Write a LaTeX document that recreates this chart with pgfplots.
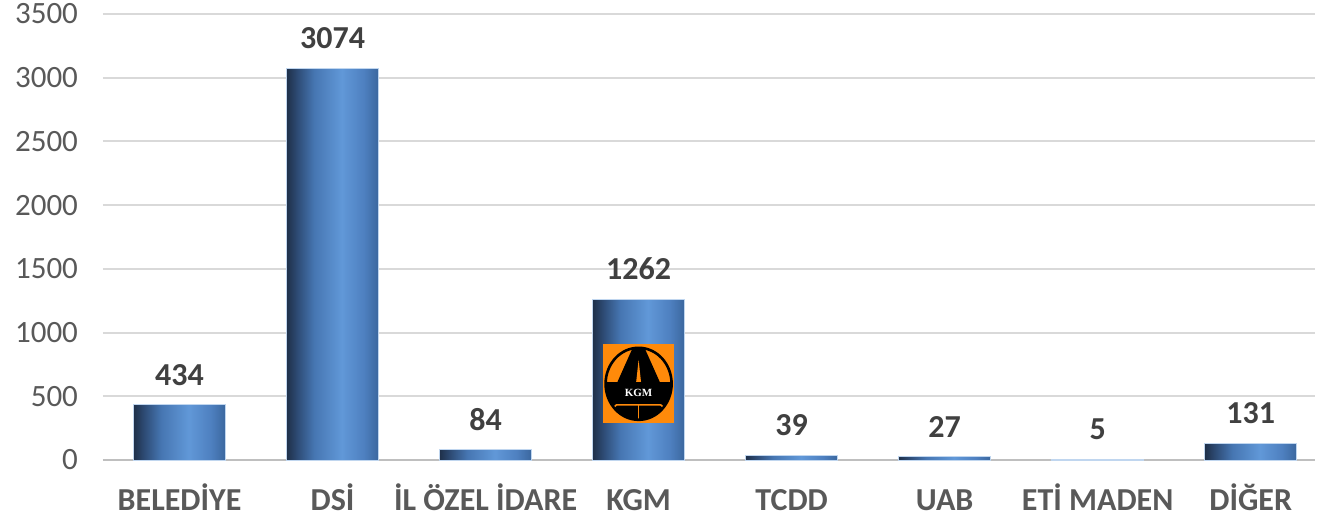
\documentclass[border=0pt]{standalone}
\usepackage{fontspec}
\setmainfont{Carlito}
\newfontfamily\logofont{Liberation Serif}
\usepackage{pgfplots}
\pgfplotsset{compat=1.18}
\definecolor{gridc}{HTML}{D9D9D9}
\definecolor{zeroc}{HTML}{BFBFBF}
\definecolor{tickc}{HTML}{595959}
\definecolor{labc}{HTML}{404040}
\definecolor{kgmor}{HTML}{FF8A0A}
\definecolor{b0}{HTML}{1F3049}
\definecolor{b1}{HTML}{2E4C76}
\definecolor{b2}{HTML}{4676B2}
\definecolor{b3}{HTML}{6198D8}
\definecolor{b4}{HTML}{4E80C0}
\definecolor{b5}{HTML}{3B679E}
\pgfdeclarehorizontalshading{barshade}{100bp}{color(0bp)=(b0); color(25bp)=(b0); color(31bp)=(b1); color(40bp)=(b2); color(55bp)=(b3); color(67bp)=(b4); color(75bp)=(b5); color(100bp)=(b5)}
\pgfplotsset{gbar/.style={ybar, bar width=46pt, bar shift=0pt, draw=b3!40!white, line width=0.4pt, shading=barshade}}
\begin{document}
\begin{tikzpicture}
\useasboundingbox (-51.5pt,-28pt) rectangle (608pt,230pt);
\begin{axis}[
  at={(0,0)}, anchor=south west,
  width=606pt, height=223pt, scale only axis,
  xmin=-0.5, xmax=7.42, ymin=0, ymax=3500,
  ytick={0,500,...,3500},
  xtick={0,...,7},
  xticklabels={BELEDİYE, DSİ, İL ÖZEL İDARE, KGM, TCDD, UAB, ETİ MADEN, DİĞER},
  axis line style={draw=none},
  major tick length=0pt,
  ymajorgrids,
  grid style={gridc, line width=1pt},
  extra y ticks={0}, extra y tick labels={},
  extra y tick style={grid style={zeroc, line width=1.3pt}},
  /pgf/number format/assume math mode=true,
  /pgf/number format/1000 sep={},
  yticklabel style={font=\fontsize{15.5}{18}\selectfont, text=tickc, xshift=-9pt},
  xticklabel style={font=\fontsize{16}{19}\selectfont\bfseries, text=tickc, anchor=base, yshift=-25pt},
  nodes near coords,
  every node near coord/.append style={anchor=center, yshift=15pt, font=\fontsize{16}{19}\selectfont\bfseries, text=labc},
]
\addplot[gbar] coordinates {(0,434)};
\addplot[gbar] coordinates {(1,3074)};
\addplot[gbar] coordinates {(2,84)};
\addplot[gbar] coordinates {(3,1262)};
\addplot[gbar] coordinates {(4,39)};
\addplot[gbar] coordinates {(5,27)};
\addplot[gbar] coordinates {(6,5)};
\addplot[gbar] coordinates {(7,131)};
\coordinate (kgm) at (axis cs:3,598);
\end{axis}
\begin{scope}[shift={(kgm)}]
\fill[kgmor] (-17.75pt,-19.75pt) rectangle (17.75pt,19.75pt);
\begin{scope}
\clip (0,0) ellipse [x radius=16.5pt, y radius=18pt];
\fill[kgmor] (-17pt,-19pt) rectangle (17pt,19pt);
\fill[black] (-11pt,0pt) -- (-2.5pt,19pt) -- (2.5pt,19pt) -- (11pt,0pt) -- cycle;
\fill[kgmor] (-1.2pt,1pt) -- (0pt,12pt) -- (1.2pt,1pt) -- cycle;
\fill[black] (-17pt,-19pt) rectangle (17pt,1pt);
\draw[kgmor, line width=0.8pt] (-15pt,-14pt) -- (-11pt,-10.5pt) -- (11pt,-10.5pt) -- (15pt,-14pt);
\draw[kgmor, line width=0.8pt] (0,-10.5pt) -- (0,-19pt);
\end{scope}
\draw[black, line width=1.3pt] (0,0) ellipse [x radius=16.5pt, y radius=18pt];
\node[white, font=\logofont\fontsize{5.5}{6}\selectfont\bfseries, inner sep=0pt] at (0,-4.5pt) {KGM};
\end{scope}
\end{tikzpicture}
\end{document}
